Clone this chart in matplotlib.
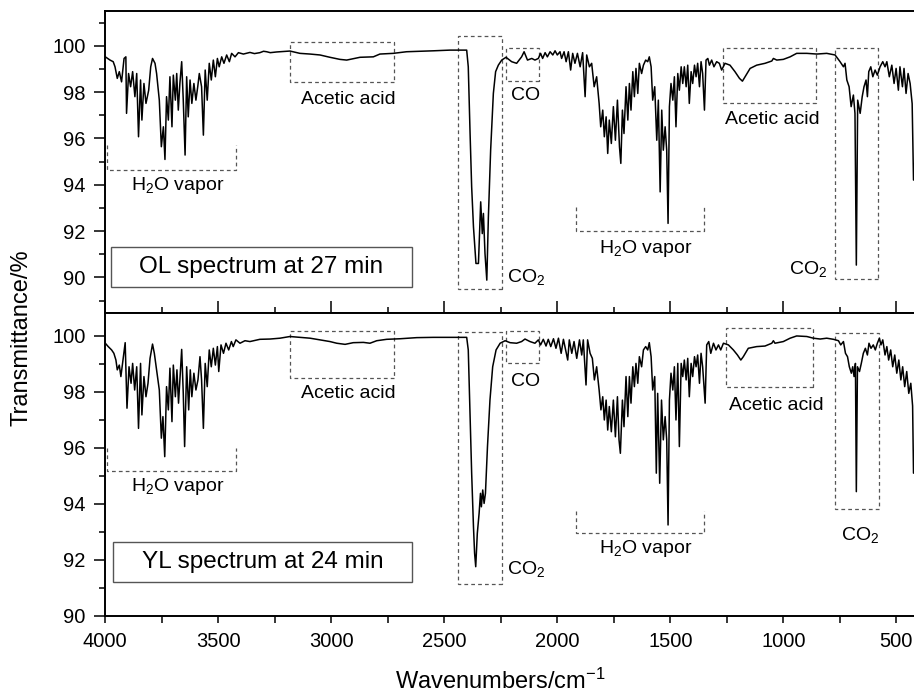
import numpy as np
import matplotlib
matplotlib.use("Agg")
import matplotlib.pyplot as plt
from matplotlib.patches import Rectangle
from matplotlib.ticker import MultipleLocator

plt.rcParams['font.family'] = ['Liberation Sans', 'DejaVu Sans']
plt.rcParams['mathtext.default'] = 'regular'

# OL spectrum at 27 min (top panel)
ol_wn = [4000, 3979, 3965, 3957, 3947, 3938, 3928, 3917, 3909, 3906,
         3897, 3888, 3879, 3869, 3861, 3853, 3844, 3838, 3829, 3820,
         3808, 3799, 3791, 3780, 3773, 3761, 3752, 3743, 3736, 3729,
         3721, 3714, 3705, 3699, 3690, 3684, 3677, 3670, 3662, 3655,
         3647, 3640, 3633, 3625, 3617, 3608, 3599, 3591, 3584, 3574,
         3566, 3558, 3549, 3540, 3531, 3522, 3513, 3504, 3496, 3485,
         3475, 3463, 3451, 3441, 3426, 3411, 3389, 3360, 3340, 3316,
         3300, 3286, 3270, 3242, 3183, 3139, 3094, 3050, 3006, 2962,
         2932, 2873, 2814, 2785, 2726, 2667, 2549, 2475, 2401, 2394,
         2386, 2379, 2371, 2360, 2349, 2339, 2332, 2327, 2320, 2312,
         2305, 2295, 2283, 2273, 2261, 2246, 2227, 2202, 2180, 2158,
         2147, 2132, 2113, 2099, 2084, 2074, 2065, 2054, 2044, 2032,
         2020, 2010, 2000, 1988, 1981, 1970, 1961, 1951, 1941, 1932,
         1922, 1911, 1899, 1888, 1877, 1870, 1858, 1848, 1837, 1826,
         1815, 1808, 1799, 1792, 1784, 1777, 1770, 1761, 1752, 1743,
         1734, 1725, 1719, 1712, 1705, 1696, 1688, 1681, 1674, 1666,
         1659, 1652, 1644, 1637, 1627, 1619, 1609, 1600, 1593, 1585,
         1578, 1569, 1560, 1553, 1545, 1538, 1531, 1523, 1516, 1510,
         1504, 1497, 1489, 1482, 1475, 1467, 1460, 1452, 1445, 1438,
         1430, 1423, 1416, 1408, 1401, 1393, 1386, 1379, 1371, 1364,
         1357, 1349, 1342, 1334, 1327, 1317, 1307, 1295, 1283, 1273,
         1258, 1236, 1214, 1194, 1181, 1165, 1147, 1118, 1081, 1051,
         1044, 1029, 1000, 970, 941, 896, 852, 808, 771, 749,
         734, 727, 719, 709, 700, 690, 683, 677, 671, 660,
         651, 643, 634, 628, 622, 613, 604, 594, 584, 572,
         560, 550, 542, 531, 520, 510, 501, 491, 484, 473,
         466, 457, 448, 439, 430, 424, 418]
ol_t = [99.52, 99.38, 99.31, 99.09, 98.59, 98.88, 98.44, 99.45, 99.52, 97.08,
        98.80, 98.23, 98.88, 97.80, 98.80, 96.07, 98.52, 96.79, 98.37, 97.51,
        98.08, 99.09, 99.45, 99.24, 98.80, 97.65, 95.64, 96.50, 95.09, 97.80,
        96.79, 98.66, 96.50, 98.73, 97.65, 98.80, 97.22, 98.37, 99.31, 97.65,
        95.28, 98.66, 96.93, 98.52, 97.51, 98.37, 97.65, 98.23, 98.80, 98.23,
        96.14, 98.95, 97.65, 99.24, 98.52, 99.38, 98.66, 99.45, 99.09, 99.52,
        99.24, 99.60, 99.31, 99.67, 99.52, 99.70, 99.64, 99.71, 99.66, 99.70,
        99.76, 99.74, 99.70, 99.73, 99.77, 99.67, 99.64, 99.60, 99.50, 99.41,
        99.38, 99.50, 99.52, 99.64, 99.67, 99.74, 99.78, 99.81, 99.81, 99.09,
        96.21, 93.91, 92.18, 90.60, 90.60, 93.26, 91.89, 92.76, 91.03, 89.88,
        92.61, 95.49, 97.94, 98.88, 99.16, 99.38, 99.50, 99.31, 99.24, 99.52,
        99.74, 99.38, 99.45, 99.38, 99.45, 99.67, 99.45, 99.70, 99.52, 99.74,
        99.60, 99.78, 99.60, 99.74, 99.45, 99.74, 99.31, 99.74, 98.95, 99.67,
        99.24, 99.67, 99.09, 99.70, 97.80, 99.60, 99.09, 99.24, 98.23, 98.66,
        97.51, 96.50, 97.22, 96.07, 96.93, 95.35, 96.79, 95.78, 97.37, 95.92,
        97.65, 95.64, 94.92, 97.22, 96.21, 98.23, 96.79, 98.37, 97.22, 98.88,
        97.80, 99.02, 97.94, 99.24, 98.80, 99.16, 99.38, 99.31, 99.52, 99.09,
        97.65, 98.23, 95.92, 97.65, 93.69, 97.22, 95.49, 96.50, 95.49, 92.33,
        97.37, 98.37, 97.65, 98.66, 96.50, 98.80, 98.08, 99.09, 98.37, 99.09,
        98.23, 99.16, 97.51, 98.88, 98.37, 99.16, 98.66, 99.24, 98.23, 99.31,
        98.80, 97.22, 99.38, 99.45, 99.16, 99.38, 99.09, 99.31, 99.24, 98.95,
        99.24, 99.16, 98.88, 98.59, 98.47, 98.73, 99.02, 99.16, 99.24, 99.34,
        99.45, 99.38, 99.41, 99.52, 99.67, 99.67, 99.64, 99.67, 99.60, 99.31,
        99.09, 99.24, 98.52, 98.23, 97.37, 97.87, 97.08, 90.53, 97.65, 97.08,
        97.80, 98.23, 98.52, 97.80, 98.88, 99.09, 98.66, 98.95, 98.73, 99.09,
        99.31, 99.09, 99.31, 98.66, 99.16, 98.37, 99.02, 98.08, 99.09, 98.23,
        99.02, 97.94, 98.80, 98.37, 97.50, 94.20, 95.00]

# YL spectrum at 24 min (bottom panel)
yl_wn = [4000, 3987, 3972, 3962, 3953, 3947, 3938, 3931, 3920, 3912,
         3904, 3895, 3886, 3879, 3870, 3861, 3853, 3844, 3838, 3829,
         3820, 3811, 3802, 3791, 3783, 3773, 3761, 3752, 3745, 3737,
         3729, 3721, 3714, 3705, 3699, 3690, 3683, 3676, 3668, 3662,
         3655, 3649, 3640, 3631, 3624, 3617, 3608, 3599, 3590, 3581,
         3574, 3566, 3558, 3549, 3540, 3531, 3522, 3513, 3504, 3498,
         3488, 3477, 3466, 3454, 3442, 3434, 3422, 3404, 3382, 3360,
         3316, 3271, 3227, 3183, 3139, 3094, 3050, 3006, 2976, 2939,
         2903, 2858, 2829, 2799, 2755, 2696, 2622, 2549, 2475, 2401,
         2394, 2386, 2379, 2371, 2366, 2361, 2354, 2346, 2340, 2336,
         2330, 2324, 2318, 2309, 2298, 2286, 2271, 2253, 2231, 2209,
         2180, 2158, 2143, 2121, 2099, 2084, 2074, 2062, 2050, 2040,
         2029, 2017, 2006, 1995, 1983, 1973, 1963, 1954, 1947, 1936,
         1926, 1914, 1902, 1892, 1885, 1873, 1866, 1855, 1845, 1836,
         1826, 1815, 1807, 1799, 1792, 1784, 1777, 1770, 1761, 1752,
         1743, 1734, 1727, 1721, 1712, 1705, 1696, 1688, 1681, 1674,
         1666, 1659, 1652, 1644, 1637, 1627, 1619, 1609, 1600, 1593,
         1585, 1578, 1569, 1562, 1556, 1547, 1539, 1531, 1523, 1516,
         1510, 1504, 1497, 1489, 1482, 1475, 1467, 1460, 1452, 1445,
         1438, 1430, 1423, 1416, 1408, 1401, 1393, 1386, 1379, 1371,
         1364, 1357, 1346, 1339, 1330, 1321, 1309, 1298, 1287, 1277,
         1265, 1243, 1221, 1203, 1188, 1177, 1155, 1118, 1081, 1051,
         1044, 1037, 1000, 970, 941, 896, 867, 837, 808, 778,
         756, 746, 734, 725, 716, 708, 699, 693, 687, 681,
         677, 672, 663, 655, 646, 637, 628, 621, 612, 602,
         593, 584, 575, 568, 560, 550, 542, 534, 525, 516,
         507, 498, 489, 480, 472, 463, 454, 445, 436, 428,
         424, 418]
yl_t = [99.74, 99.62, 99.50, 99.38, 99.14, 98.79, 98.96, 98.55, 99.26, 99.76,
        97.42, 98.90, 98.31, 99.02, 98.07, 98.90, 96.70, 99.02, 97.18, 98.55,
        97.83, 98.31, 99.20, 99.71, 99.38, 98.79, 98.07, 96.35, 97.12, 95.69,
        98.19, 97.36, 98.85, 96.94, 98.96, 97.83, 98.79, 97.60, 98.67, 99.52,
        97.95, 96.05, 98.90, 97.36, 98.79, 97.83, 98.67, 98.07, 98.43, 99.26,
        98.43, 96.70, 99.02, 98.19, 99.50, 98.90, 99.56, 98.96, 99.62, 98.73,
        99.68, 99.38, 99.74, 99.50, 99.80, 99.62, 99.86, 99.74, 99.83, 99.80,
        99.88, 99.89, 99.92, 99.98, 99.95, 99.92, 99.86, 99.80, 99.74, 99.70,
        99.76, 99.77, 99.74, 99.83, 99.88, 99.90, 99.94, 99.95, 99.95, 99.95,
        99.50, 97.12, 95.10, 93.19, 92.24, 91.76, 92.95, 93.67, 94.38, 93.90,
        94.50, 94.02, 94.38, 96.05, 97.71, 98.90, 99.50, 99.74, 99.83, 99.76,
        99.74, 99.80, 99.89, 99.80, 99.74, 99.86, 99.68, 99.88, 99.64, 99.88,
        99.62, 99.90, 99.56, 99.92, 99.38, 99.88, 99.50, 99.14, 99.86, 99.38,
        99.80, 99.20, 99.86, 99.32, 99.86, 98.25, 99.86, 99.38, 99.20, 98.43,
        98.90, 98.07, 97.36, 97.83, 97.00, 97.71, 96.64, 97.48, 96.58, 97.71,
        96.40, 97.83, 96.29, 95.81, 97.71, 96.76, 98.55, 97.12, 98.55, 97.60,
        98.90, 98.19, 99.02, 98.31, 99.26, 98.90, 99.50, 99.62, 99.50, 99.76,
        99.26, 98.07, 98.55, 95.10, 97.95, 94.74, 97.71, 96.29, 97.12, 96.29,
        93.25, 97.71, 98.67, 98.07, 98.90, 97.00, 99.02, 96.05, 99.02, 98.55,
        99.14, 98.43, 99.20, 97.83, 99.02, 98.55, 99.26, 98.90, 99.32, 98.31,
        99.38, 98.90, 97.60, 99.68, 99.80, 99.38, 99.74, 99.50, 99.68, 99.50,
        99.74, 99.68, 99.50, 99.32, 99.14, 99.26, 99.56, 99.62, 99.64, 99.74,
        99.83, 99.74, 99.80, 99.92, 100.00, 99.98, 99.92, 99.89, 99.92, 99.88,
        99.83, 99.68, 99.80, 99.38, 99.26, 98.90, 98.67, 98.90, 98.55, 99.02,
        94.44, 98.90, 98.73, 99.02, 99.38, 99.56, 99.32, 99.74, 99.56, 99.68,
        99.50, 99.74, 99.92, 99.68, 99.86, 99.32, 99.62, 99.14, 99.50, 98.90,
        99.32, 98.67, 99.14, 98.43, 98.90, 98.19, 98.73, 97.95, 98.31, 97.50,
        95.10, 96.00]

panel_titles = ["OL spectrum at 27 min", "YL spectrum at 24 min"]

fig = plt.figure(figsize=(9.14, 6.94), dpi=100)
ax1 = fig.add_axes([0.1152, 0.5486, 0.8902, 0.4356])
ax2 = fig.add_axes([0.1152, 0.1124, 0.8902, 0.4362])

ax1.plot(ol_wn, ol_t, color='black', lw=1.1)
ax2.plot(yl_wn, yl_t, color='black', lw=1.1)

ax1.set_ylim(88.45, 101.5)
ax2.set_ylim(90, 100.81)

for ax in (ax1, ax2):
    ax.set_xlim(4000, 400)
    ax.xaxis.set_major_locator(MultipleLocator(500))
    ax.xaxis.set_minor_locator(MultipleLocator(250))
    ax.yaxis.set_major_locator(MultipleLocator(2))
    ax.yaxis.set_minor_locator(MultipleLocator(1))
    ax.tick_params(axis='y', which='major', direction='out', length=8,
                   width=1.1, labelsize=14.5, pad=6)
    ax.tick_params(axis='y', which='minor', direction='out', length=4.5,
                   width=1.1)
    for s in ax.spines.values():
        s.set_linewidth(1.4)

ax1.tick_params(axis='x', which='major', direction='in', length=8.5,
                width=1.1, labelbottom=False)
ax1.tick_params(axis='x', which='minor', direction='in', length=4.5,
                width=1.1)
ax2.tick_params(axis='x', which='both', direction='out', length=4.8,
                width=1.1, labelsize=14.5, pad=7)

dash = dict(color='#555555', lw=0.9, ls=(0, (3, 2.5)))
fs = 14


def box(ax, x0, x1, y0, y1):
    ax.add_patch(Rectangle((x1, y0), x0 - x1, y1 - y0, fill=False, **dash))


def bracket(ax, x0, x1, ytop, ybot):
    ax.plot([x0, x0, x1, x1], [ytop, ybot, ybot, ytop], **dash)


# top panel annotations
bracket(ax1, 3991, 3423, 95.71, 94.63)
ax1.text(3680, 93.96, 'H$_2$O vapor', ha='center', va='center', fontsize=fs)
box(ax1, 3183, 2721, 98.44, 100.17)
ax1.text(2926, 97.68, 'Acetic acid', ha='center', va='center', fontsize=fs)
box(ax1, 2438, 2246, 89.48, 100.42)
ax1.text(2224, 90.02, 'CO$_2$', ha='left', va='center', fontsize=fs)
box(ax1, 2228, 2080, 98.47, 99.89)
ax1.text(2141, 97.84, 'CO', ha='center', va='center', fontsize=fs)
bracket(ax1, 1917, 1350, 93.05, 92.01)
ax1.text(1609, 91.25, 'H$_2$O vapor', ha='center', va='center', fontsize=fs)
box(ax1, 1265, 857, 97.54, 99.91)
ax1.text(1049, 96.83, 'Acetic acid', ha='center', va='center', fontsize=fs)
box(ax1, 770, 579, 89.91, 99.91)
ax1.text(805, 90.38, 'CO$_2$', ha='right', va='center', fontsize=fs)

# bottom panel annotations
bracket(ax2, 3991, 3423, 96.01, 95.18)
ax2.text(3680, 94.62, 'H$_2$O vapor', ha='center', va='center', fontsize=fs)
box(ax2, 3183, 2721, 98.51, 100.19)
ax2.text(2926, 97.95, 'Acetic acid', ha='center', va='center', fontsize=fs)
box(ax2, 2438, 2243, 91.13, 100.15)
ax2.text(2224, 91.67, 'CO$_2$', ha='left', va='center', fontsize=fs)
box(ax2, 2227, 2080, 99.05, 100.19)
ax2.text(2141, 98.37, 'CO', ha='center', va='center', fontsize=fs)
bracket(ax2, 1917, 1350, 93.75, 92.98)
ax2.text(1609, 92.42, 'H$_2$O vapor', ha='center', va='center', fontsize=fs)
box(ax2, 1255, 867, 98.17, 100.27)
ax2.text(1030, 97.5, 'Acetic acid', ha='center', va='center', fontsize=fs)
box(ax2, 773, 575, 93.81, 100.1)
ax2.text(659, 92.89, 'CO$_2$', ha='center', va='center', fontsize=fs)

# sample labels in plain boxes
ax1.add_patch(Rectangle((2643, 89.58), 3975 - 2643, 91.30 - 89.58,
                        fill=False, ec='#555555', lw=1.0))
ax1.text(3309, 90.44, panel_titles[0], ha='center', va='center', fontsize=17.5)
ax2.add_patch(Rectangle((2644, 91.22), 3965 - 2644, 92.65 - 91.22,
                        fill=False, ec='#555555', lw=1.0))
ax2.text(3305, 91.94, panel_titles[1], ha='center', va='center', fontsize=17.5)

fig.text(0.024, 0.513, 'Transmittance/%', rotation=90, ha='center',
         va='center', fontsize=17)
fig.text(0.547, 0.008, 'Wavenumbers/cm$^{\\mathregular{-1}}$', ha='center',
         va='baseline', fontsize=17)

fig.savefig('out.png', dpi=100, facecolor='white')
